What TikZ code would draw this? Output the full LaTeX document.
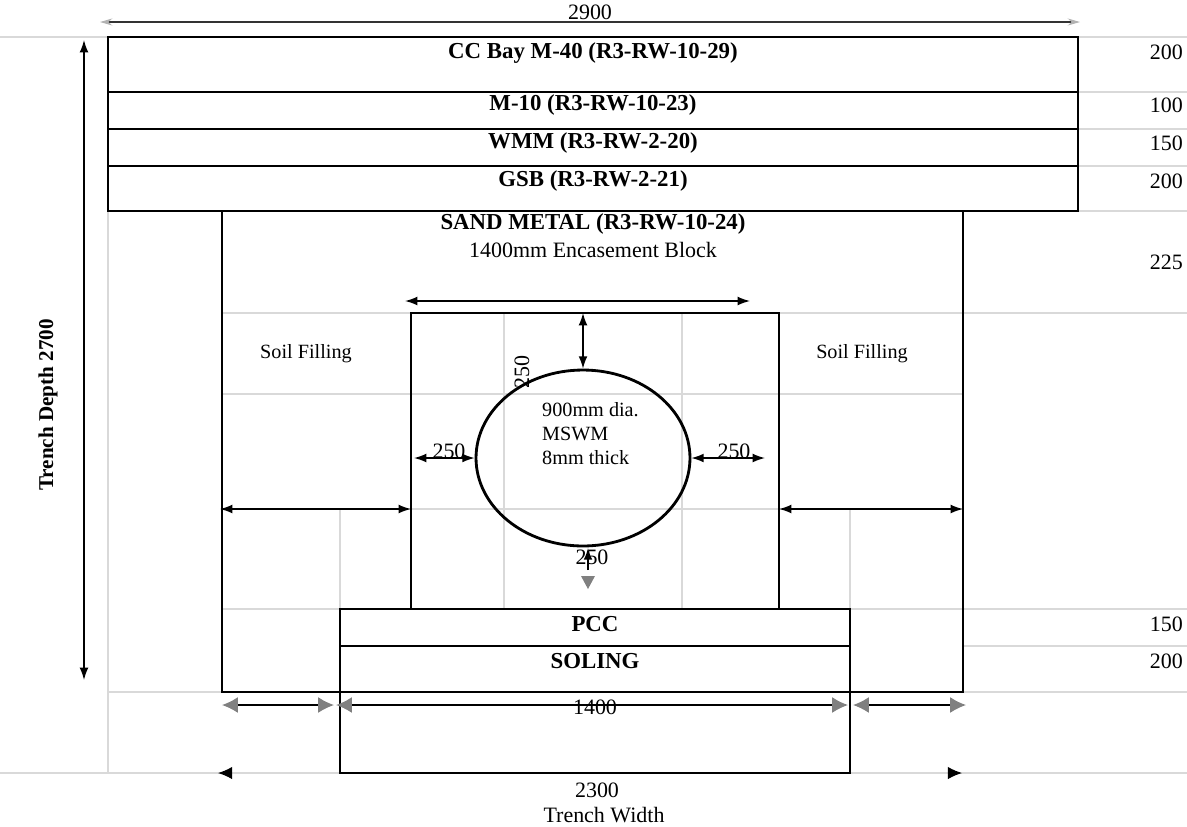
\documentclass[tikz,border=0pt]{standalone}
\usepackage{fontspec}
\setmainfont{Liberation Serif}
\usepackage{tikz}
\usetikzlibrary{arrows.meta,shapes.geometric}

\tikzset{
  gridline/.style={gray!30, line width=0.6pt},
  box/.style={draw, line width=0.8pt},
  layer/.style={font=\fontsize{13}{15}\selectfont\bfseries},
  dimtext/.style={font=\fontsize{12.5}{14}\selectfont, inner sep=1pt},
  note/.style={font=\fontsize{11.5}{13.6}\selectfont, align=left},
  dimarrow/.style={{Latex[length=7pt,width=5pt]}-{Latex[length=7pt,width=5pt]}, line width=0.8pt},
  greyarrow/.style={{Latex[length=9pt,width=9pt,color=gray]}-{Latex[length=9pt,width=9pt,color=gray]}, line width=0.8pt},
}

\begin{document}
\begin{tikzpicture}[x=0.02cm, y=-0.02cm, >=Latex]
  \useasboundingbox (0,0) rectangle (1187,826);
  % grid lines
  \draw[gridline] (0,37) -- (108,37) (1078,37) -- (1187,37);
  \foreach \y in {92,129,166,211} \draw[gridline] (1078,\y) -- (1187,\y);
  \draw[gridline] (222,313) -- (1187,313);
  \foreach \y in {394,509} \draw[gridline] (222,\y) -- (963,\y);
  \draw[gridline] (222,609) -- (1187,609);
  \draw[gridline] (963,646) -- (1187,646);
  \draw[gridline] (108,692) -- (1187,692);
  \draw[gridline] (0,773) -- (1187,773);
  \draw[gridline] (108,211) -- (108,773);
  \foreach \x in {340,850} \draw[gridline] (\x,509) -- (\x,609);
  \foreach \x in {504,682} \draw[gridline] (\x,313) -- (\x,609);

  % coordinates
  \coordinate (w1) at (100,22);   \coordinate (w2) at (1080,22);
  \coordinate (d1) at (84,40);    \coordinate (d2) at (84,680);
  \coordinate (e1) at (405,301);  \coordinate (e2) at (750,301);
  \coordinate (c1) at (583,313);
  \coordinate (l1) at (414,458);  \coordinate (r1) at (765,458);
  \coordinate (sl1) at (220,509); \coordinate (sl2) at (411,509);
  \coordinate (sr1) at (779,509); \coordinate (sr2) at (963,509);
  \coordinate (b1) at (588,570);  \coordinate (b2) at (588,548);
  \coordinate (g1) at (222,705);  \coordinate (g2) at (334,705);
  \coordinate (g3) at (336,705);  \coordinate (g4) at (848,705);
  \coordinate (g5) at (853,705);  \coordinate (g6) at (966,705);
  \coordinate (t1) at (218,773);  \coordinate (t2) at (962,773);
  \draw[{Latex[length=8pt,width=7pt,black]}-{Latex[length=8pt,width=7pt,black]}, gray!30, line width=0.6pt] (t1) -- (t2);

  % pavement layers
  \draw[box] (108,37) rectangle (1078,211);
  \foreach \y in {92,129,166} \draw[box] (108,\y) -- (1078,\y);
  \node[layer] (ccbay) at (593,53) {CC Bay M-40 (R3-RW-10-29)};
  \node[layer] (mten) at (593,105) {M-10 (R3-RW-10-23)};
  \node[layer] (wmm) at (593,143) {WMM (R3-RW-2-20)};
  \node[layer] (gsb) at (593,181) {GSB (R3-RW-2-21)};

  % trench and encasement
  \draw[box] (222,211) rectangle (963,692);
  \draw[box] (411,313) rectangle (779,609);
  \draw[box] (340,609) rectangle (850,646);
  \draw[box] (340,646) rectangle (850,692);
  \draw[box] (340,692) rectangle (850,773);
  \node[layer] (sand) at (593,224) {SAND METAL (R3-RW-10-24)};
  \node[dimtext] (block) at (593,250) {1400mm Encasement Block};
  \node[note] (soilL) at (306,354) {Soil Filling};
  \node[note] (soilR) at (862,354) {Soil Filling};
  \node[layer] (pcc) at (595,624) {PCC};
  \node[layer] (soling) at (595,661) {SOLING};

  % pipe
  \node[draw, ellipse, line width=1.6pt, minimum width=4.28cm, minimum height=3.52cm] (pipe) at (583,458) {};
  \node[note, anchor=north west] (pipetext) at (536,396) {900mm dia.\\MSWM\\8mm thick};

  % dimensions
  \draw[{Stealth[length=7pt,width=4pt,color=gray!60]}-{Stealth[length=7pt,width=4pt,color=gray!60]}, line width=0.6pt, black!80] (w1) -- (w2);
  \node[dimtext] (total) at (590,12) {2900};
  \draw[dimarrow] (d1) -- (d2);
  \node[font=\fontsize{12}{14}\selectfont\bfseries, rotate=90] (depth) at (48,405) {Trench Depth 2700};
  \draw[dimarrow] (e1) -- (e2);
  \draw[dimarrow] (c1) -- (pipe.north);
  \node[dimtext, rotate=90] (cover) at (522,372) {250};
  \draw[dimarrow] (l1) -- (pipe.west);
  \node[dimtext] (sideL) at (449,451) {250};
  \draw[dimarrow] (pipe.east) -- (r1);
  \node[dimtext] (sideR) at (734,451) {250};
  \draw[dimarrow] (sl1) -- (sl2);
  \draw[dimarrow] (sr1) -- (sr2);
  \draw[->, line width=0.8pt] (b1) -- (b2);
  \node[dimtext] (bed) at (592,557) {250};
  \fill[gray] (581,576) -- (595,576) -- (588,589) -- cycle;
  \draw[greyarrow] (g1) -- (g2);
  \draw[greyarrow] (g3) -- (g4);
  \draw[greyarrow] (g5) -- (g6);
  \node[dimtext] (base) at (595,707) {1400};
  \node[dimtext] (width) at (597,790) {2300};
  \node[dimtext] (wlabel) at (604,815) {Trench Width};

  % layer thicknesses
  \foreach \y/\t in {52/200,105/100,143/150,181/200,262/225,624/150,661/200}
    \node[dimtext, anchor=east] (th\y) at (1185,\y) {\t};
\end{tikzpicture}
\end{document}
